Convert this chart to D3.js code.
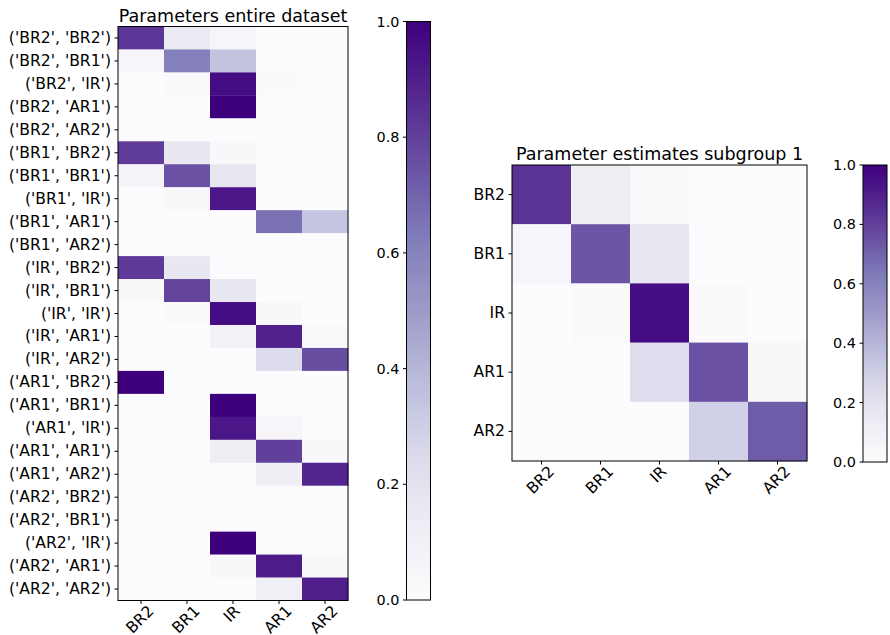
<!DOCTYPE html>
<html>
<head>
<meta charset="utf-8">
<script src="https://cdn.jsdelivr.net/npm/d3@7"></script>
<style>
  html, body { margin: 0; padding: 0; background: #fff; }
  svg text { font-family: "DejaVu Sans", sans-serif; fill: #000; }
</style>
</head>
<body>
<svg id="fig" width="890" height="635"></svg>
<script>
// Parameter labels
const params = ["BR2", "BR1", "IR", "AR1", "AR2"];

// Row labels of the full-dataset matrix: every (from, to) pair
const pairLabels = [
  "('BR2', 'BR2')", "('BR2', 'BR1')", "('BR2', 'IR')", "('BR2', 'AR1')", "('BR2', 'AR2')",
  "('BR1', 'BR2')", "('BR1', 'BR1')", "('BR1', 'IR')", "('BR1', 'AR1')", "('BR1', 'AR2')",
  "('IR', 'BR2')", "('IR', 'BR1')", "('IR', 'IR')", "('IR', 'AR1')", "('IR', 'AR2')",
  "('AR1', 'BR2')", "('AR1', 'BR1')", "('AR1', 'IR')", "('AR1', 'AR1')", "('AR1', 'AR2')",
  "('AR2', 'BR2')", "('AR2', 'BR1')", "('AR2', 'IR')", "('AR2', 'AR1')", "('AR2', 'AR2')"
];

// Parameters of the entire dataset (one row per pair, columns = params)
const entireValues = [
  [0.83, 0.14, 0.05, 0.00, 0.00],
  [0.05, 0.61, 0.35, 0.00, 0.00],
  [0.00, 0.03, 0.96, 0.02, 0.00],
  [0.00, 0.00, 1.00, 0.00, 0.00],
  [0.00, 0.00, 0.00, 0.00, 0.00],
  [0.81, 0.16, 0.04, 0.00, 0.00],
  [0.06, 0.75, 0.17, 0.00, 0.00],
  [0.00, 0.04, 0.93, 0.00, 0.00],
  [0.00, 0.00, 0.00, 0.66, 0.34],
  [0.00, 0.00, 0.00, 0.00, 0.00],
  [0.82, 0.16, 0.00, 0.00, 0.00],
  [0.04, 0.79, 0.16, 0.00, 0.00],
  [0.00, 0.02, 0.96, 0.04, 0.00],
  [0.00, 0.00, 0.08, 0.89, 0.03],
  [0.00, 0.00, 0.00, 0.24, 0.76],
  [1.00, 0.00, 0.00, 0.00, 0.00],
  [0.00, 0.00, 1.00, 0.00, 0.00],
  [0.00, 0.00, 0.93, 0.05, 0.00],
  [0.00, 0.00, 0.12, 0.80, 0.04],
  [0.00, 0.00, 0.00, 0.12, 0.88],
  [0.00, 0.00, 0.00, 0.00, 0.00],
  [0.00, 0.00, 0.00, 0.00, 0.00],
  [0.00, 0.00, 1.00, 0.00, 0.00],
  [0.00, 0.00, 0.04, 0.91, 0.04],
  [0.00, 0.00, 0.00, 0.11, 0.90]
];

// Parameter estimates of subgroup 1 (rows and columns = params)
const subgroupValues = [
  [0.84, 0.12, 0.03, 0.00, 0.00],
  [0.05, 0.74, 0.17, 0.00, 0.00],
  [0.00, 0.02, 0.96, 0.02, 0.00],
  [0.00, 0.00, 0.23, 0.75, 0.04],
  [0.00, 0.00, 0.00, 0.29, 0.72]
];

const colorbarTicks = [0.0, 0.2, 0.4, 0.6, 0.8, 1.0];

// Purples colour map: nine evenly spaced anchors, linearly interpolated
const purpleStops = ["#fcfbfd", "#efedf5", "#dadaeb", "#bcbddc", "#9e9ac8",
                     "#807dba", "#6a51a3", "#54278f", "#3f007d"];
const color = d3.scaleLinear()
  .domain(d3.range(purpleStops.length).map(i => i / (purpleStops.length - 1)))
  .range(purpleStops)
  .interpolate(d3.interpolateRgb)
  .clamp(true);

const svg = d3.select("#fig");
const FS = 15.6;       // tick label size
const CB_FS = 14.4;    // colour bar label size
const TITLE_FS = 17.5; // title size
const TICK = 3.5, PAD = 3.5;

const defs = svg.append("defs");
const grad = defs.append("linearGradient")
  .attr("id", "purplesGrad")
  .attr("x1", 0).attr("y1", 1).attr("x2", 0).attr("y2", 0);
d3.range(0, 1.0001, 0.02).forEach(t => {
  grad.append("stop").attr("offset", t).attr("stop-color", color(t));
});

function heatmap(box, rowLabels, colLabels, values, title) {
  const g = svg.append("g");
  const x = d3.scaleBand().domain(d3.range(colLabels.length)).range([box.x0, box.x1]);
  const y = d3.scaleBand().domain(d3.range(rowLabels.length)).range([box.y0, box.y1]);

  values.forEach((row, i) => {
    row.forEach((v, j) => {
      g.append("rect")
        .attr("x", x(j)).attr("y", y(i))
        .attr("width", x.bandwidth() + 0.3).attr("height", y.bandwidth() + 0.3)
        .attr("fill", color(v));
    });
  });

  // frame
  g.append("rect")
    .attr("x", box.x0).attr("y", box.y0)
    .attr("width", box.x1 - box.x0).attr("height", box.y1 - box.y0)
    .attr("fill", "none").attr("stroke", "#000").attr("stroke-width", 1);

  // y ticks
  rowLabels.forEach((lab, i) => {
    const cy = y(i) + y.bandwidth() / 2;
    g.append("line")
      .attr("x1", box.x0 - TICK).attr("x2", box.x0)
      .attr("y1", cy).attr("y2", cy)
      .attr("stroke", "#000").attr("stroke-width", 1);
    g.append("text")
      .attr("x", box.x0 - TICK - PAD).attr("y", cy)
      .attr("text-anchor", "end").attr("dominant-baseline", "central")
      .attr("font-size", FS).text(lab);
  });

  // x ticks with labels rotated 45 degrees, centred under each tick
  colLabels.forEach((lab, j) => {
    const cx = x(j) + x.bandwidth() / 2;
    g.append("line")
      .attr("x1", cx).attr("x2", cx)
      .attr("y1", box.y1).attr("y2", box.y1 + TICK)
      .attr("stroke", "#000").attr("stroke-width", 1);
    const t = g.append("text")
      .attr("text-anchor", "middle").attr("dominant-baseline", "central")
      .attr("font-size", FS).text(lab);
    const w = t.node().getComputedTextLength();
    const h = FS * 0.45;
    const half = (w + h) * Math.SQRT1_2 / 2;
    const cyl = box.y1 + TICK + PAD - 1.5 + half;
    t.attr("transform", `translate(${cx - 1},${cyl}) rotate(-45)`);
  });

  g.append("text")
    .attr("x", (box.x0 + box.x1) / 2).attr("y", box.y0 - 5)
    .attr("text-anchor", "middle").attr("font-size", TITLE_FS)
    .text(title);
}

function colorbar(box) {
  const g = svg.append("g");
  const s = d3.scaleLinear().domain([0, 1]).range([box.y1, box.y0]);
  g.append("rect")
    .attr("x", box.x0).attr("y", box.y0)
    .attr("width", box.x1 - box.x0).attr("height", box.y1 - box.y0)
    .attr("fill", "url(#purplesGrad)")
    .attr("stroke", "#000").attr("stroke-width", 1);
  colorbarTicks.forEach(v => {
    const yy = s(v);
    g.append("line")
      .attr("x1", box.x0 - TICK).attr("x2", box.x0)
      .attr("y1", yy).attr("y2", yy)
      .attr("stroke", "#000").attr("stroke-width", 1);
    g.append("text")
      .attr("x", box.x0 - TICK - PAD).attr("y", yy)
      .attr("text-anchor", "end").attr("dominant-baseline", "central")
      .attr("font-size", CB_FS).text(v.toFixed(1));
  });
}

heatmap({ x0: 118, x1: 348, y0: 26.5, y1: 600.5 }, pairLabels, params, entireValues,
        "Parameters entire dataset");
colorbar({ x0: 406.5, x1: 430.5, y0: 21.5, y1: 600 });

heatmap({ x0: 512, x1: 807, y0: 165, y1: 461 }, params, params, subgroupValues,
        "Parameter estimates subgroup 1");
colorbar({ x0: 863, x1: 887, y0: 165, y1: 462 });
</script>
</body>
</html>
